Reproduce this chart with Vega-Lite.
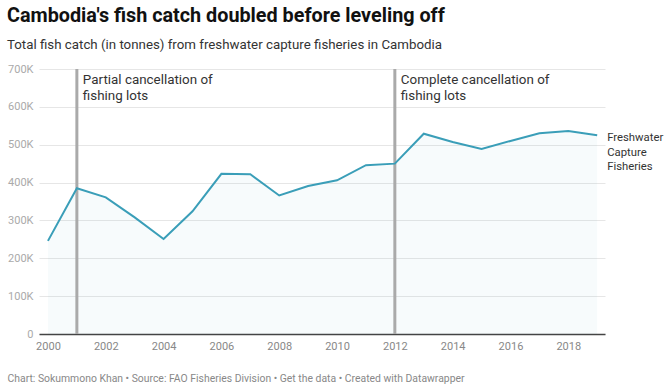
{
  "$schema": "https://vega.github.io/schema/vega-lite/v6.json",
  "width": 566,
  "height": 265,
  "autosize": {"type": "none"},
  "padding": {"left": 39, "top": 69, "right": 61, "bottom": 55},
  "background": "white",
  "config": {
    "font": "Roboto",
    "view": {"stroke": null}
  },
  "title": {
    "text": "Cambodia's fish catch doubled before leveling off",
    "subtitle": "Total fish catch (in tonnes) from freshwater capture fisheries in Cambodia",
    "anchor": "start",
    "frame": "group",
    "dx": -32,
    "offset": 12,
    "font": "Roboto",
    "fontSize": 19.8,
    "fontWeight": "bold",
    "color": "#111111",
    "subtitleFont": "Roboto",
    "subtitleFontSize": 13.3,
    "subtitleColor": "#333333",
    "subtitlePadding": 12
  },
  "datasets": {
    "catch": [
      {"year": 2000, "tonnes": 246000},
      {"year": 2001, "tonnes": 385000},
      {"year": 2002, "tonnes": 361000},
      {"year": 2003, "tonnes": 308000},
      {"year": 2004, "tonnes": 251000},
      {"year": 2005, "tonnes": 324000},
      {"year": 2006, "tonnes": 423000},
      {"year": 2007, "tonnes": 422000},
      {"year": 2008, "tonnes": 366000},
      {"year": 2009, "tonnes": 391000},
      {"year": 2010, "tonnes": 406000},
      {"year": 2011, "tonnes": 446000},
      {"year": 2012, "tonnes": 450000},
      {"year": 2013, "tonnes": 529000},
      {"year": 2014, "tonnes": 507000},
      {"year": 2015, "tonnes": 489000},
      {"year": 2016, "tonnes": 510000},
      {"year": 2017, "tonnes": 530000},
      {"year": 2018, "tonnes": 536000},
      {"year": 2019, "tonnes": 525000}
    ],
    "events": [
      {"year": 2001, "label": "Partial cancellation of\nfishing lots"},
      {"year": 2012, "label": "Complete cancellation of\nfishing lots"}
    ],
    "serieslabel": [
      {"year": 2019, "tonnes": 525000, "label": "Freshwater\nCapture\nFisheries"}
    ]
  },
  "layer": [
    {
      "data": {"name": "catch"},
      "mark": {"type": "area", "fill": "#2a9fbc", "fillOpacity": 0.04},
      "encoding": {
        "x": {
          "field": "year", "type": "quantitative",
          "scale": {"domain": [1999.69, 2019.27], "nice": false, "zero": false},
          "axis": {"values": [2000, 2002, 2004, 2006, 2008, 2010, 2012, 2014, 2016, 2018], "format": "d", "grid": false, "ticks": false, "domainColor": "#444444", "domainWidth": 1.5, "labelColor": "#888888", "labelFontSize": 11, "labelPadding": 6, "labelFont": "Roboto", "labelOverlap": false, "title": "Chart: Sokummono Khan • Source: FAO Fisheries Division • Get the data • Created with Datawrapper", "titleX": -32, "titleY": 44, "titleAlign": "left", "titleBaseline": "middle", "titleFontSize": 10.4, "titleFontWeight": "normal", "titleColor": "#888888", "titleFont": "Roboto"}
        },
        "y": {
          "field": "tonnes", "type": "quantitative",
          "scale": {"domain": [0, 700000], "nice": false},
          "axis": {"values": [0, 100000, 200000, 300000, 400000, 500000, 600000, 700000], "labelExpr": "datum.value == 0 ? '0' : (datum.value / 1000) + 'K'", "domain": false, "ticks": false, "gridColor": "#e6e6e6", "labelColor": "#aaaaaa", "labelFontSize": 11, "labelPadding": 6, "labelFont": "Roboto", "labelOverlap": false, "title": null}
        }
      }
    },
    {
      "data": {"name": "events"},
      "mark": {"type": "rule", "color": "#aaaaaa", "strokeWidth": 3},
      "encoding": {
        "x": {
          "field": "year", "type": "quantitative",
          "axis": {"values": [2000, 2002, 2004, 2006, 2008, 2010, 2012, 2014, 2016, 2018], "format": "d", "grid": false, "ticks": false, "domainColor": "#444444", "domainWidth": 1.5, "labelColor": "#888888", "labelFontSize": 11, "labelPadding": 6, "labelFont": "Roboto", "labelOverlap": false, "title": "Chart: Sokummono Khan • Source: FAO Fisheries Division • Get the data • Created with Datawrapper", "titleX": -32, "titleY": 44, "titleAlign": "left", "titleBaseline": "middle", "titleFontSize": 10.4, "titleFontWeight": "normal", "titleColor": "#888888", "titleFont": "Roboto"}
        }
      }
    },
    {
      "data": {"name": "catch"},
      "mark": {"type": "line", "color": "#3a9eb8", "strokeWidth": 2},
      "encoding": {
        "x": {
          "field": "year", "type": "quantitative",
          "axis": {"values": [2000, 2002, 2004, 2006, 2008, 2010, 2012, 2014, 2016, 2018], "format": "d", "grid": false, "ticks": false, "domainColor": "#444444", "domainWidth": 1.5, "labelColor": "#888888", "labelFontSize": 11, "labelPadding": 6, "labelFont": "Roboto", "labelOverlap": false, "title": "Chart: Sokummono Khan • Source: FAO Fisheries Division • Get the data • Created with Datawrapper", "titleX": -32, "titleY": 44, "titleAlign": "left", "titleBaseline": "middle", "titleFontSize": 10.4, "titleFontWeight": "normal", "titleColor": "#888888", "titleFont": "Roboto"}
        },
        "y": {
          "field": "tonnes", "type": "quantitative",
          "axis": {"values": [0, 100000, 200000, 300000, 400000, 500000, 600000, 700000], "labelExpr": "datum.value == 0 ? '0' : (datum.value / 1000) + 'K'", "domain": false, "ticks": false, "gridColor": "#e6e6e6", "labelColor": "#aaaaaa", "labelFontSize": 11, "labelPadding": 6, "labelFont": "Roboto", "labelOverlap": false, "title": null}
        }
      }
    },
    {
      "data": {"name": "events"},
      "mark": {"type": "text", "align": "left", "baseline": "top", "dx": 6, "dy": 4, "fontSize": 13.4, "lineHeight": 15.5, "lineBreak": "\n", "color": "#333333", "font": "Roboto"},
      "encoding": {
        "x": {
          "field": "year", "type": "quantitative",
          "axis": {"values": [2000, 2002, 2004, 2006, 2008, 2010, 2012, 2014, 2016, 2018], "format": "d", "grid": false, "ticks": false, "domainColor": "#444444", "domainWidth": 1.5, "labelColor": "#888888", "labelFontSize": 11, "labelPadding": 6, "labelFont": "Roboto", "labelOverlap": false, "title": "Chart: Sokummono Khan • Source: FAO Fisheries Division • Get the data • Created with Datawrapper", "titleX": -32, "titleY": 44, "titleAlign": "left", "titleBaseline": "middle", "titleFontSize": 10.4, "titleFontWeight": "normal", "titleColor": "#888888", "titleFont": "Roboto"}
        },
        "y": {
          "datum": 700000, "type": "quantitative",
          "axis": {"values": [0, 100000, 200000, 300000, 400000, 500000, 600000, 700000], "labelExpr": "datum.value == 0 ? '0' : (datum.value / 1000) + 'K'", "domain": false, "ticks": false, "gridColor": "#e6e6e6", "labelColor": "#aaaaaa", "labelFontSize": 11, "labelPadding": 6, "labelFont": "Roboto", "labelOverlap": false, "title": null}
        },
        "text": {"field": "label"}
      }
    },
    {
      "data": {"name": "serieslabel"},
      "mark": {"type": "text", "align": "left", "baseline": "top", "dx": 10, "dy": -3, "fontSize": 11.3, "lineHeight": 14.5, "lineBreak": "\n", "color": "#333333", "font": "Roboto"},
      "encoding": {
        "x": {
          "field": "year", "type": "quantitative",
          "axis": {"values": [2000, 2002, 2004, 2006, 2008, 2010, 2012, 2014, 2016, 2018], "format": "d", "grid": false, "ticks": false, "domainColor": "#444444", "domainWidth": 1.5, "labelColor": "#888888", "labelFontSize": 11, "labelPadding": 6, "labelFont": "Roboto", "labelOverlap": false, "title": "Chart: Sokummono Khan • Source: FAO Fisheries Division • Get the data • Created with Datawrapper", "titleX": -32, "titleY": 44, "titleAlign": "left", "titleBaseline": "middle", "titleFontSize": 10.4, "titleFontWeight": "normal", "titleColor": "#888888", "titleFont": "Roboto"}
        },
        "y": {
          "field": "tonnes", "type": "quantitative",
          "axis": {"values": [0, 100000, 200000, 300000, 400000, 500000, 600000, 700000], "labelExpr": "datum.value == 0 ? '0' : (datum.value / 1000) + 'K'", "domain": false, "ticks": false, "gridColor": "#e6e6e6", "labelColor": "#aaaaaa", "labelFontSize": 11, "labelPadding": 6, "labelFont": "Roboto", "labelOverlap": false, "title": null}
        },
        "text": {"field": "label"}
      }
    }
  ]
}
